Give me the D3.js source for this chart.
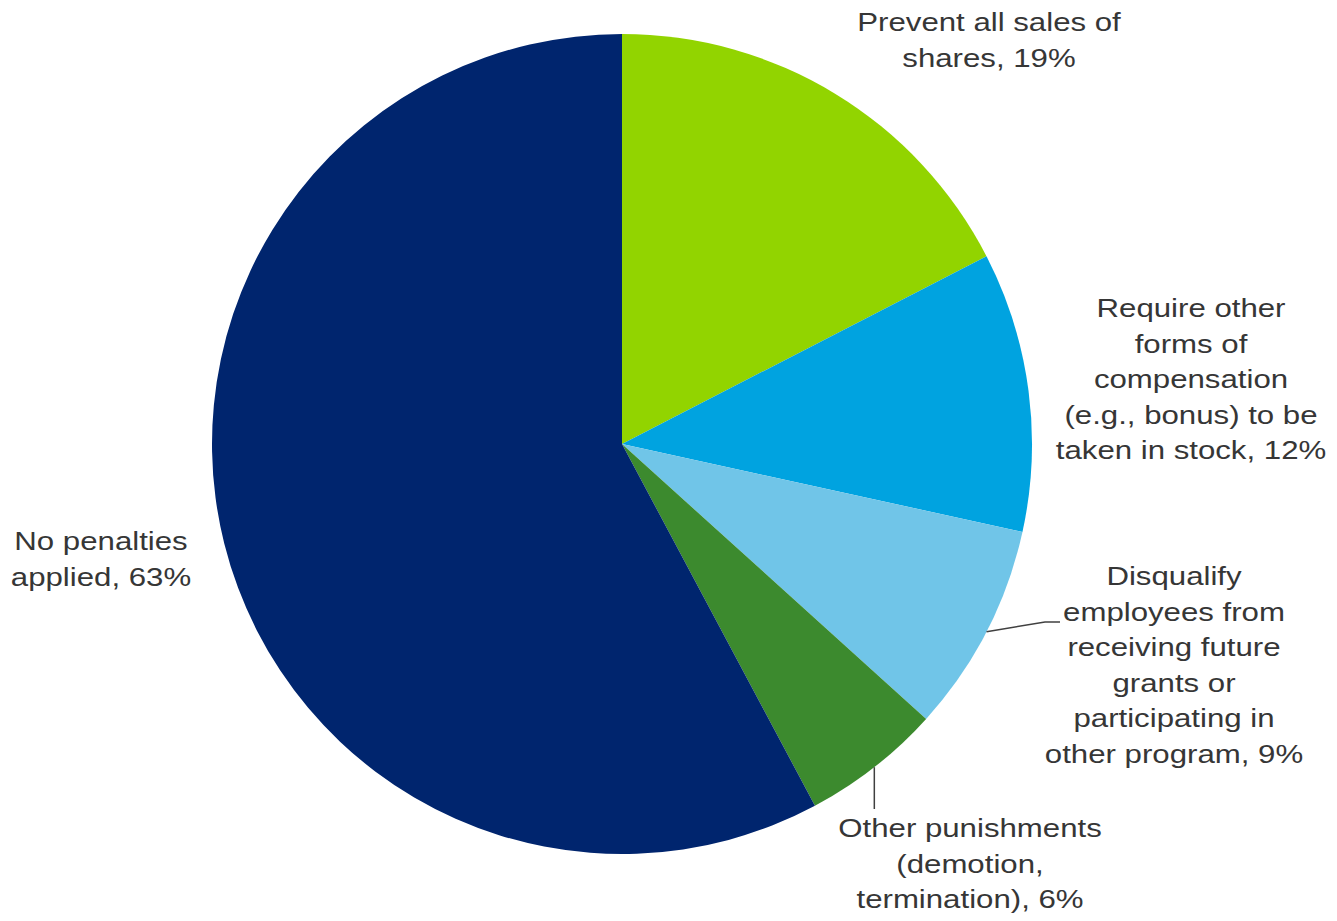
<!DOCTYPE html>
<html>
<head>
<meta charset="utf-8">
<script src="https://cdn.jsdelivr.net/npm/d3@7"></script>
<style>
  html, body { margin: 0; padding: 0; background: #ffffff; }
  svg { display: block; }
  .lbl { font-family: "Liberation Sans", Arial, sans-serif; font-size: 26px; fill: #363636; }
</style>
</head>
<body>
<script>
// Penalties for selling shares before the holding requirement is met
const categories = [
  "Prevent all sales of shares",
  "Require other forms of compensation (e.g., bonus) to be taken in stock",
  "Disqualify employees from receiving future grants or participating in other program",
  "Other punishments (demotion, termination)",
  "No penalties applied"
];
const values = [19, 12, 9, 6, 63];
const labelLines = [
  ["Prevent all sales of", "shares, 19%"],
  ["Require other", "forms of", "compensation", "(e.g., bonus) to be", "taken in stock, 12%"],
  ["Disqualify", "employees from", "receiving future", "grants or", "participating in", "other program, 9%"],
  ["Other punishments", "(demotion,", "termination), 6%"],
  ["No penalties", "applied, 63%"]
];
const colors = ["#92d400", "#00a3e0", "#70c5e8", "#3c8a2e", "#00256e"];

const W = 1337, H = 921;
const cx = 622, cy = 444, R = 410;
const lineH = 35.6;

// label block anchors (centre x, first baseline y)
const labelPos = [
  [989, 31],
  [1191, 317],
  [1174, 585],
  [970, 837],
  [101, 550]
];

const svg = d3.select("body").append("svg")
  .attr("width", W).attr("height", H);

const g = svg.append("g").attr("transform", `translate(${cx},${cy})`);

const pie = d3.pie().sort(null).value(d => d);
const arcs = pie(values);
const arc = d3.arc().innerRadius(0).outerRadius(R);

g.selectAll("path.slice")
  .data(arcs)
  .join("path")
  .attr("class", "slice")
  .attr("d", arc)
  .attr("fill", (d, i) => colors[i]);

// leader lines for the two labels that sit away from their slices
const edge = a => {
  const m = (a.startAngle + a.endAngle) / 2;
  return [cx + R * Math.sin(m), cy - R * Math.cos(m)];
};
const leaders = [
  { i: 2, pts: p => [p, [1045, 622], [1060, 622]] },
  { i: 3, pts: p => [[p[0], p[1]], [p[0], 809]] }
];
leaders.forEach(l => {
  const p = edge(arcs[l.i]);
  svg.append("path")
    .attr("d", d3.line()(l.pts(p)))
    .attr("fill", "none")
    .attr("stroke", "#404040")
    .attr("stroke-width", 1.5);
});

// labels
labelLines.forEach((lines, i) => {
  const [x, y] = labelPos[i];
  const t = svg.append("g")
    .attr("transform", `translate(${x},${y}) scale(1.2,1)`)
    .append("text")
    .attr("class", "lbl")
    .attr("text-anchor", "middle");
  lines.forEach((s, k) => {
    t.append("tspan").attr("x", 0).attr("y", k * lineH).text(s);
  });
});
</script>
</body>
</html>
